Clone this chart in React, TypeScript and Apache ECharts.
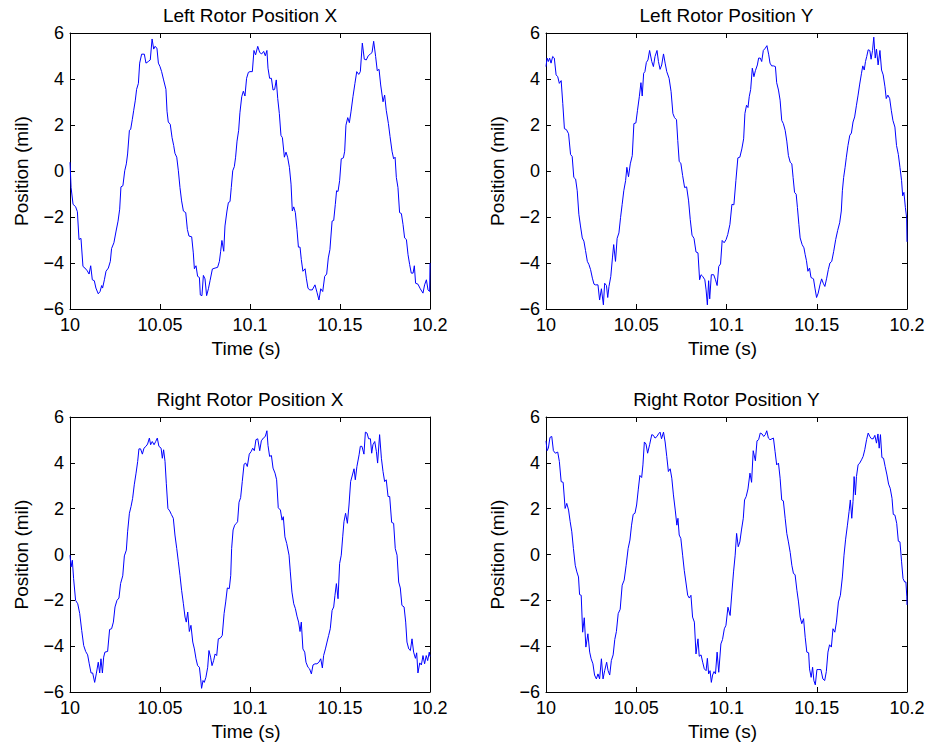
import React, { useEffect, useRef } from "react";
import * as echarts from "echarts";

// ---------- data ----------
const T0 = 10; // seconds, start of the time window
const xTicks = [10, 10.05, 10.1, 10.15, 10.2];
const yTicks = [-6, -4, -2, 0, 2, 4, 6];
const titles = [
  "Left Rotor Position X",
  "Left Rotor Position Y",
  "Right Rotor Position X",
  "Right Rotor Position Y",
];
const xName = "Time (s)";
const yName = "Position (mil)";

// [milliseconds after 10 s, position in mil]
const leftX: number[][] = [
  [0, 0.38], [0.6, -0.72], [1.7, -1.45], [3.1, -1.55], [4.1, -1.77], [5.0, -2.98], [6.1, -2.93], [7.2, -4.15],
  [8.3, -4.22], [9.6, -4.34], [10.6, -4.48], [11.5, -4.12], [12.4, -4.73], [13.5, -4.77], [14.4, -5.09], [15.7, -5.34],
  [16.7, -5.24], [17.6, -4.98], [18.1, -5.09], [19.1, -4.73], [20.0, -4.36], [21.3, -4.22], [22.4, -3.93], [23.1, -3.37],
  [24.4, -3.12], [25.6, -2.61], [26.7, -2.18], [27.6, -1.66], [28.3, -0.69], [29.4, -0.64], [30.4, 0.01], [31.3, 0.31],
  [32.0, 0.74], [33.0, 1.77], [33.7, 1.81], [34.6, 2.23], [35.4, 2.64], [36.3, 3.08], [37.0, 3.55], [38.0, 3.81],
  [38.7, 4.69], [39.8, 5.08], [41.3, 5.08], [42.2, 4.69], [43.5, 4.76], [44.6, 4.83], [45.6, 5.74], [46.5, 5.30],
  [47.2, 5.42], [48.3, 5.34], [49.1, 4.69], [50.0, 4.54], [50.9, 4.32], [52.0, 3.96], [53.3, 3.55], [53.9, 2.60],
  [54.6, 2.13], [55.7, 2.03], [56.7, 1.45], [57.6, 1.11], [58.3, 0.77], [59.3, 0.60], [60.2, 0.01], [61.1, -0.72],
  [62.0, -1.30], [63.0, -1.74], [64.3, -1.81], [65.2, -2.54], [66.1, -2.83], [67.6, -2.86], [68.5, -3.56], [69.1, -4.25],
  [70.0, -4.12], [70.9, -4.58], [71.9, -4.63], [72.4, -5.39], [73.3, -5.42], [74.1, -4.54], [75.0, -4.69], [75.9, -5.42],
  [76.9, -5.12], [77.8, -4.77], [79.1, -4.26], [80.6, -4.22], [82.0, -4.19], [83.0, -3.93], [83.7, -3.49], [84.4, -3.02],
  [85.4, -3.49], [86.1, -2.39], [87.2, -1.74], [88.0, -1.37], [88.9, -1.33], [89.6, -0.72], [90.4, 0.01], [91.3, 0.19],
  [92.0, 0.60], [92.8, 1.30], [93.7, 1.77], [94.4, 2.53], [95.4, 3.23], [96.3, 3.47], [97.2, 3.26], [98.1, 4.03],
  [99.1, 4.29], [100.0, 4.32], [101.3, 4.32], [102.2, 5.24], [103.1, 5.05], [104.3, 5.42], [105.4, 5.15], [106.5, 5.09],
  [107.6, 5.20], [108.5, 5.01], [109.4, 5.24], [110.0, 4.47], [110.9, 4.03], [111.9, 4.03], [112.8, 3.52], [113.7, 3.55],
  [114.6, 3.96], [115.4, 3.15], [116.3, 2.50], [117.2, 1.55], [118.0, 1.45], [119.1, 0.60], [120.0, 0.82], [120.9, 0.60],
  [121.9, 0.16], [122.8, -0.57], [123.5, -1.74], [124.3, -1.56], [125.2, -1.81], [126.1, -2.54], [126.9, -3.31], [127.8, -3.31],
  [128.5, -3.85], [129.4, -4.36], [130.6, -4.25], [131.3, -4.66], [132.2, -5.09], [133.1, -5.17], [134.6, -5.17], [136.1, -4.95],
  [137.2, -5.27], [138.3, -5.61], [139.3, -5.12], [140.4, -5.24], [141.5, -4.58], [142.6, -4.48], [143.5, -3.78], [144.4, -3.42],
  [145.6, -2.18], [146.5, -2.15], [147.4, -1.45], [148.1, -0.86], [148.9, -0.89], [149.8, -0.42], [150.7, 0.53], [151.9, 0.57],
  [152.6, 0.86], [153.3, 1.99], [154.3, 2.32], [155.2, 2.10], [156.1, 2.57], [157.2, 3.23], [158.3, 3.81], [159.3, 4.32],
  [160.4, 4.20], [161.3, 4.32], [162.4, 5.56], [163.5, 4.86], [164.6, 4.83], [165.7, 5.01], [166.9, 5.09], [167.8, 5.15],
  [168.7, 5.64], [169.8, 4.98], [170.7, 4.36], [171.7, 4.42], [172.6, 3.74], [173.9, 3.01], [174.8, 3.30], [175.7, 2.64],
  [176.9, 2.06], [177.8, 1.50], [178.9, 0.86], [179.8, 0.53], [180.6, 0.60], [181.3, -0.28], [182.2, -0.72], [183.1, -1.81],
  [184.1, -1.85], [185.0, -2.32], [185.9, -2.91], [186.9, -2.98], [187.8, -3.64], [188.7, -4.07], [189.6, -4.44], [190.6, -4.44],
  [191.3, -4.12], [192.0, -4.88], [193.3, -4.92], [194.6, -5.12], [196.1, -5.31], [197.0, -4.95], [198.0, -4.73], [198.9, -5.17],
  [199.8, -5.24], [200.0, -4.0],
];

const leftY: number[][] = [
  [0, 4.54], [0.6, 4.91], [1.3, 4.76], [2.0, 4.91], [2.8, 4.69], [3.7, 4.98], [4.6, 4.91], [5.6, 4.18],
  [6.5, 4.10], [7.4, 3.81], [8.4, 3.93], [9.3, 2.93], [10.2, 1.84], [11.3, 1.80], [12.5, 1.62], [13.6, 0.72],
  [14.5, 0.63], [15.4, -0.28], [16.4, -0.35], [17.3, -0.86], [18.2, -1.88], [19.1, -2.39], [20.1, -2.91], [21.0, -3.05],
  [21.9, -3.46], [22.9, -3.93], [23.8, -4.07], [24.7, -4.29], [25.7, -4.66], [26.6, -4.92], [27.3, -4.95], [28.8, -4.95],
  [29.7, -5.61], [30.7, -5.12], [31.8, -5.82], [32.5, -4.88], [33.5, -4.98], [34.2, -5.50], [34.9, -5.02], [35.9, -4.58],
  [36.8, -3.78], [37.5, -3.20], [38.5, -3.93], [39.4, -2.93], [40.4, -2.69], [41.3, -2.03], [42.2, -1.45], [43.1, -0.86],
  [44.1, -0.42], [44.8, 0.16], [45.7, -0.25], [46.7, 0.31], [47.8, 0.67], [48.7, 2.06], [49.8, 2.09], [50.7, 2.64],
  [51.7, 3.23], [52.6, 3.84], [53.3, 3.26], [54.1, 4.25], [54.8, 4.32], [55.6, 4.72], [56.5, 4.83], [57.4, 5.24],
  [58.6, 4.76], [59.5, 4.54], [60.4, 4.98], [61.5, 5.24], [62.3, 4.76], [63.2, 4.42], [64.1, 4.61], [65.1, 5.09],
  [66.0, 4.69], [66.9, 4.32], [68.2, 4.03], [69.3, 3.45], [70.3, 2.50], [71.2, 2.32], [72.3, 2.23], [73.0, 1.33],
  [73.8, 0.41], [74.7, 0.34], [75.7, -0.20], [76.8, -0.72], [77.9, -0.69], [79.0, -1.30], [79.9, -2.10], [80.9, -2.79],
  [82.0, -2.93], [83.1, -3.52], [84.2, -3.56], [85.1, -4.73], [85.9, -4.51], [86.8, -4.58], [88.0, -4.73], [88.7, -5.17],
  [89.4, -5.82], [90.1, -4.77], [90.7, -5.56], [91.6, -4.51], [92.9, -4.51], [93.9, -4.73], [94.8, -4.98], [95.7, -4.15],
  [96.7, -4.04], [97.6, -3.02], [98.7, -3.12], [99.8, -2.98], [100.7, -2.76], [101.9, -2.32], [103.0, -1.45], [104.1, -1.47],
  [105.2, -0.42], [106.3, 0.57], [107.4, 0.60], [108.5, 0.96], [109.5, 1.40], [110.2, 2.50], [111.1, 2.86], [111.9, 2.76],
  [112.6, 3.23], [113.4, 3.55], [114.3, 4.47], [115.2, 4.10], [116.0, 4.36], [117.1, 4.61], [117.8, 4.91], [118.7, 4.91],
  [119.5, 4.76], [120.4, 5.24], [121.5, 5.34], [122.4, 5.45], [123.4, 5.05], [124.1, 4.69], [125.0, 4.57], [126.0, 4.57],
  [127.1, 4.54], [127.8, 3.84], [128.8, 3.52], [129.7, 3.08], [130.6, 2.20], [131.5, 2.06], [132.5, 1.77], [133.4, 1.30],
  [134.3, 0.67], [135.3, 0.38], [136.2, 0.31], [136.9, -0.28], [137.7, -0.93], [138.6, -1.01], [139.3, -1.59], [140.1, -2.32],
  [140.8, -2.91], [141.9, -3.20], [142.9, -3.34], [143.6, -3.64], [144.3, -3.90], [145.1, -4.36], [146.0, -4.22], [146.8, -4.63],
  [147.5, -4.66], [148.2, -4.69], [149.0, -5.09], [149.9, -5.50], [150.8, -5.31], [151.8, -4.95], [152.7, -4.69], [153.6, -4.88],
  [154.5, -5.02], [155.5, -4.66], [156.4, -4.29], [157.3, -4.00], [158.3, -3.93], [159.4, -3.49], [160.5, -2.98], [161.6, -2.58],
  [162.7, -2.25], [163.6, -1.74], [164.2, -0.86], [164.9, -0.28], [165.7, 0.16], [166.4, 0.60], [167.3, 1.11], [168.3, 1.55],
  [169.2, 1.65], [170.1, 2.13], [171.0, 2.35], [172.0, 2.86], [172.9, 3.30], [173.8, 3.78], [174.8, 4.25], [175.5, 4.57],
  [176.3, 4.39], [177.0, 4.76], [177.7, 4.98], [178.5, 5.27], [179.4, 5.24], [180.1, 4.86], [180.9, 5.24], [181.6, 5.82],
  [182.4, 4.91], [183.1, 5.30], [184.0, 4.61], [185.0, 5.24], [185.9, 4.39], [186.8, 4.18], [187.8, 3.66], [188.5, 3.15],
  [189.4, 3.30], [190.4, 3.15], [191.3, 2.64], [192.2, 2.20], [193.3, 1.91], [194.2, 1.11], [195.2, 0.72], [196.1, 0.16],
  [197.0, -0.42], [197.6, -1.08], [198.3, -0.93], [199.1, -1.59], [199.8, -2.03], [200.0, -3.08],
];

const rightX: number[][] = [
  [0, -0.03], [0.6, -0.54], [1.3, -0.25], [2.0, -1.05], [3.1, -2.00], [4.3, -2.15], [5.4, -2.58], [6.5, -3.31],
  [7.6, -3.97], [8.7, -4.23], [9.8, -4.38], [10.7, -4.77], [11.7, -5.17], [12.6, -5.17], [13.7, -5.58], [14.6, -5.21],
  [15.7, -4.70], [16.5, -5.17], [17.2, -4.55], [18.0, -5.17], [18.7, -4.48], [19.4, -4.26], [20.9, -4.23], [22.0, -3.27],
  [23.1, -3.24], [24.1, -2.95], [25.0, -2.29], [26.1, -2.00], [27.2, -1.90], [28.1, -1.27], [29.3, -0.93], [30.2, -0.06],
  [31.3, 0.19], [32.0, 0.99], [33.0, 1.80], [33.9, 2.09], [34.8, 2.45], [35.7, 3.04], [36.7, 3.55], [37.6, 4.06],
  [38.3, 4.61], [39.2, 4.61], [40.2, 4.38], [41.1, 4.64], [42.2, 4.72], [43.1, 4.82], [44.1, 5.08], [44.8, 4.79],
  [45.7, 4.93], [46.7, 4.79], [47.6, 4.93], [48.5, 5.08], [49.4, 4.72], [50.6, 4.64], [51.3, 4.20], [52.0, 4.57],
  [52.8, 4.06], [53.5, 3.11], [54.4, 2.01], [55.4, 1.90], [56.3, 1.75], [57.4, 1.58], [58.3, 0.85], [59.3, 0.26],
  [60.2, -0.32], [61.1, -0.91], [62.0, -1.56], [63.0, -2.15], [63.9, -2.73], [64.6, -2.95], [65.4, -2.51], [66.3, -3.36],
  [67.2, -3.09], [68.2, -3.82], [69.1, -4.12], [70.0, -4.55], [70.9, -4.85], [71.9, -4.92], [72.6, -5.43], [73.1, -5.84],
  [73.9, -5.50], [74.6, -5.58], [75.5, -5.36], [76.5, -4.92], [77.2, -4.19], [78.1, -4.48], [78.9, -4.85], [79.8, -4.63],
  [80.6, -4.34], [81.5, -4.41], [82.4, -3.68], [83.5, -3.65], [84.6, -3.53], [85.6, -2.58], [86.5, -2.07], [87.4, -1.46],
  [88.5, -1.49], [89.3, -0.91], [89.8, 0.26], [90.6, 1.07], [91.5, 1.28], [92.4, 1.36], [93.1, 1.43], [93.9, 2.28],
  [94.8, 2.48], [95.7, 3.18], [96.7, 3.94], [97.6, 3.99], [98.5, 3.84], [99.6, 4.38], [100.7, 4.50], [101.5, 4.64],
  [102.4, 4.53], [103.3, 5.01], [104.3, 5.05], [105.4, 4.53], [106.3, 4.96], [107.4, 5.08], [108.5, 5.15], [109.4, 5.40],
  [110.0, 4.76], [110.9, 4.28], [111.9, 4.32], [112.8, 3.77], [113.9, 3.55], [114.8, 3.26], [115.7, 2.04], [116.9, 1.94],
  [117.8, 1.50], [118.5, 1.65], [119.4, 0.77], [120.4, 0.48], [121.7, -0.03], [122.4, -0.76], [123.3, -1.64], [124.3, -2.15],
  [125.2, -2.36], [126.1, -2.69], [127.0, -2.95], [127.8, -3.36], [128.5, -2.95], [129.4, -4.12], [130.4, -4.26], [131.1, -4.70],
  [132.2, -4.92], [133.1, -4.99], [134.1, -5.21], [135.0, -4.82], [136.1, -4.77], [137.2, -4.77], [138.3, -4.70], [139.3, -4.55],
  [140.2, -4.95], [140.9, -4.41], [141.9, -4.12], [142.8, -3.82], [143.7, -3.53], [144.6, -3.24], [145.6, -2.44], [146.5, -2.29],
  [147.2, -1.78], [148.0, -1.27], [148.9, -1.93], [149.8, -0.39], [150.7, -0.03], [151.5, 0.77], [152.2, 1.43], [153.1, 1.80],
  [154.1, 1.36], [155.0, 2.16], [155.9, 3.18], [156.9, 3.47], [157.8, 3.74], [158.5, 3.26], [159.4, 3.84], [160.6, 4.35],
  [161.3, 4.72], [162.2, 4.72], [163.3, 4.38], [164.1, 5.34], [165.0, 5.30], [165.9, 5.05], [166.9, 5.05], [167.6, 4.42],
  [168.3, 4.79], [169.3, 4.93], [170.2, 4.50], [170.9, 3.99], [172.0, 5.23], [173.0, 4.20], [173.9, 3.62], [174.8, 3.18],
  [175.7, 3.26], [176.7, 2.53], [177.6, 2.53], [178.7, 1.40], [179.8, 1.36], [180.7, 0.26], [181.7, -0.03], [182.6, -1.20],
  [183.5, -1.46], [184.4, -2.22], [185.6, -2.29], [186.5, -2.95], [187.2, -3.82], [188.2, -4.12], [189.1, -4.19], [190.0, -3.68],
  [190.9, -4.26], [191.9, -4.53], [192.6, -4.29], [193.3, -5.17], [194.3, -4.73], [195.2, -4.82], [196.1, -4.41], [197.0, -4.77],
  [197.9, -4.41], [198.7, -4.63], [199.6, -4.26], [200.0, -4.45],
];

const rightY: number[][] = [
  [0, 4.96], [0.6, 4.53], [1.3, 4.64], [2.2, 5.11], [3.2, 5.15], [4.1, 4.53], [5.2, 4.42], [6.5, 4.47],
  [7.4, 4.06], [8.4, 3.18], [9.5, 3.15], [10.6, 2.01], [11.5, 2.23], [12.5, 1.94], [13.4, 1.43], [14.3, 0.99],
  [15.2, 0.26], [16.2, -0.47], [17.1, -0.76], [18.0, -0.98], [18.6, -1.75], [19.5, -1.78], [20.3, -3.39], [21.2, -2.76],
  [22.1, -4.04], [23.2, -3.46], [24.2, -4.26], [25.0, -4.55], [26.0, -4.77], [26.9, -5.26], [27.9, -5.43], [28.8, -5.21],
  [29.7, -5.43], [30.7, -4.55], [31.6, -5.43], [32.5, -5.07], [33.6, -4.70], [34.4, -5.07], [35.3, -5.26], [36.2, -4.63],
  [37.2, -4.38], [38.1, -3.71], [39.0, -3.36], [40.0, -2.58], [41.1, -2.39], [42.2, -1.34], [43.3, -1.12], [44.4, -0.47],
  [45.5, 0.26], [46.5, 0.63], [47.4, 1.28], [48.3, 1.75], [49.3, 1.80], [50.2, 2.16], [51.1, 2.82], [52.0, 3.45],
  [53.0, 3.36], [53.7, 3.91], [54.5, 4.91], [55.4, 4.82], [56.3, 4.42], [57.4, 4.79], [58.6, 5.23], [59.5, 5.20],
  [60.4, 5.08], [61.5, 5.15], [62.3, 5.26], [63.2, 5.34], [64.0, 5.05], [65.1, 5.34], [66.0, 4.91], [66.9, 4.28],
  [67.8, 3.62], [68.8, 3.74], [69.7, 3.33], [70.6, 2.60], [71.6, 1.94], [72.5, 1.28], [73.1, 1.58], [73.8, 0.85],
  [74.7, 0.70], [75.7, -0.03], [76.6, -0.69], [77.5, -1.20], [78.5, -1.78], [79.4, -1.90], [80.3, -1.78], [81.2, -2.73],
  [82.2, -2.95], [83.1, -4.34], [84.2, -3.68], [84.9, -4.44], [85.9, -4.38], [86.8, -4.70], [87.7, -4.99], [88.7, -5.07],
  [89.4, -4.53], [90.1, -5.21], [90.9, -5.07], [91.6, -5.58], [92.3, -5.26], [93.1, -5.11], [93.9, -5.21], [94.8, -4.26],
  [95.7, -5.14], [96.9, -3.90], [97.8, -3.71], [98.8, -3.24], [99.7, -3.09], [100.8, -2.30], [102.0, -2.66], [103.0, -1.64],
  [103.9, -0.76], [104.8, -0.03], [105.6, 0.92], [106.5, 0.34], [107.4, 0.55], [108.3, 1.07], [109.3, 1.58], [110.0, 2.38],
  [110.9, 2.53], [111.9, 2.86], [113.0, 3.55], [113.9, 3.15], [114.8, 4.53], [116.0, 4.09], [116.9, 4.96], [117.8, 5.01],
  [118.7, 5.30], [119.7, 5.26], [120.6, 5.15], [121.5, 5.23], [122.3, 5.40], [123.2, 5.08], [124.1, 5.01], [125.2, 5.05],
  [126.0, 5.08], [126.9, 4.50], [127.8, 3.91], [128.8, 3.99], [129.7, 3.33], [130.6, 2.38], [131.5, 2.34], [132.5, 1.58],
  [133.4, 0.92], [134.3, 0.55], [135.3, 0.09], [136.2, -0.47], [137.1, -0.83], [138.0, -0.88], [139.0, -1.56], [139.9, -2.07],
  [140.8, -2.73], [141.7, -3.02], [142.7, -2.80], [143.6, -3.61], [144.5, -4.26], [145.5, -4.29], [146.0, -4.99], [146.9, -5.36],
  [147.7, -4.92], [148.4, -5.50], [149.2, -5.69], [150.1, -5.02], [151.2, -5.02], [152.3, -5.02], [153.4, -5.43], [154.4, -5.50],
  [155.3, -5.11], [156.2, -4.26], [157.1, -3.94], [158.1, -4.04], [159.0, -3.24], [160.0, -3.39], [160.9, -2.95], [162.0, -2.07],
  [163.1, -1.78], [164.2, -0.98], [165.1, -0.03], [166.0, 0.67], [167.0, 1.28], [167.9, 1.87], [168.6, 2.38], [169.4, 1.58],
  [170.1, 2.31], [170.7, 3.40], [171.4, 2.60], [172.0, 3.40], [172.9, 3.91], [173.8, 3.99], [174.8, 4.13], [175.7, 4.28],
  [176.6, 4.57], [177.6, 5.01], [178.5, 5.30], [179.4, 5.15], [180.3, 5.05], [181.3, 5.05], [182.2, 5.20], [183.1, 4.86],
  [183.9, 5.26], [184.6, 4.64], [185.3, 5.23], [186.1, 4.23], [187.0, 4.20], [187.9, 3.84], [188.9, 3.47], [189.8, 3.07],
  [190.7, 2.89], [191.7, 2.45], [192.4, 1.75], [193.3, 1.72], [194.3, 1.36], [195.2, 0.58], [196.1, 0.55], [197.0, -0.32],
  [197.8, -1.05], [198.7, -1.20], [199.4, -1.20], [199.9, -1.85], [200.0, -2.20],
];

const seriesData = [leftX, leftY, rightX, rightY];

// ---------- layout ----------
const FONT = "'Liberation Sans', Arial, Helvetica, sans-serif";
const grids = [
  { left: 70, top: 33, width: 360, height: 276 },
  { left: 546, top: 33, width: 361, height: 276 },
  { left: 70, top: 417, width: 360, height: 275 },
  { left: 546, top: 417, width: 361, height: 275 },
];

const fmtX = (v: number) => String(Math.round(v * 100) / 100);
const fmtY = (v: number) => (v < 0 ? "\u2212" + Math.abs(v) : String(v));

export default function App() {
  const ref = useRef<HTMLDivElement>(null);

  useEffect(() => {
    document.body.style.margin = "0";
    if (!ref.current) return;
    const chart = echarts.init(ref.current, undefined, { renderer: "svg" });

    const axisLine = { show: true, onZero: false, lineStyle: { color: "#000", width: 1 } };
    const tick = { show: true, inside: true, length: 5, lineStyle: { color: "#000", width: 1 } };
    const xAxes: any[] = [];
    const yAxes: any[] = [];
    const series: any[] = [];
    const graphics: any[] = [];

    grids.forEach((g, i) => {
      const xBase = {
        type: "value",
        gridIndex: i,
        min: xTicks[0],
        max: xTicks[xTicks.length - 1],
        interval: 0.05,
        splitLine: { show: false },
        axisLine,
        axisTick: tick,
      };
      const yBase = {
        type: "value",
        gridIndex: i,
        min: yTicks[0],
        max: yTicks[yTicks.length - 1],
        interval: 2,
        splitLine: { show: false },
        axisLine,
        axisTick: tick,
      };
      xAxes.push({
        ...xBase,
        position: "bottom",
        axisLabel: {
          show: true,
          margin: 7,
          color: "#000",
          fontSize: 18,
          fontFamily: FONT,
          formatter: fmtX,
          showMinLabel: true,
          showMaxLabel: true,
        },
      });
      xAxes.push({ ...xBase, position: "top", axisLabel: { show: false } });
      yAxes.push({
        ...yBase,
        position: "left",
        axisLabel: {
          show: true,
          margin: 6,
          color: "#000",
          fontSize: 18,
          fontFamily: FONT,
          formatter: fmtY,
          showMinLabel: true,
          showMaxLabel: true,
        },
      });
      yAxes.push({ ...yBase, position: "right", axisLabel: { show: false } });

      series.push({
        type: "line",
        xAxisIndex: 2 * i,
        yAxisIndex: 2 * i,
        data: seriesData[i].map((p) => [T0 + p[0] / 1000, p[1]]),
        showSymbol: false,
        symbol: "none",
        lineStyle: { color: "#0000ff", width: 1 },
        itemStyle: { color: "#0000ff" },
        clip: true,
      });

      const cx = g.left + g.width / 2;
      const cy = g.top + g.height / 2;
      const bottom = g.top + g.height;
      const textStyle = (text: string, size: number) => ({
        text,
        fill: "#000",
        fontSize: size,
        fontFamily: FONT,
        align: "center",
        verticalAlign: "middle",
      });
      graphics.push({
        type: "text",
        x: cx,
        y: g.top - 18,
        style: textStyle(titles[i], 19),
      });
      graphics.push({
        type: "text",
        x: cx - 4,
        y: bottom + 39.5,
        style: textStyle(xName, 19),
      });
      graphics.push({
        type: "text",
        x: g.left - 48.5,
        y: cy,
        rotation: Math.PI / 2,
        style: textStyle(yName, 19),
      });
    });

    chart.setOption({
      animation: false,
      backgroundColor: "#fff",
      grid: grids.map((g) => ({ ...g, containLabel: false })),
      xAxis: xAxes,
      yAxis: yAxes,
      series,
      graphic: graphics,
    });

    return () => chart.dispose();
  }, []);

  return (
    <div
      ref={ref}
      style={{ position: "absolute", left: 0, top: 0, width: 931, height: 748, background: "#fff" }}
    />
  );
}
